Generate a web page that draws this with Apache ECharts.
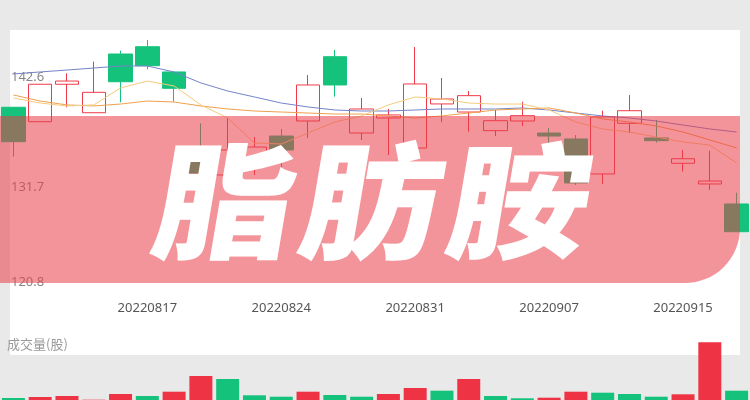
<!DOCTYPE html>
<html><head><meta charset="utf-8">
<script src="https://cdn.jsdelivr.net/npm/echarts@6/dist/echarts.min.js"></script>
<style>html,body{margin:0;padding:0;background:#e9e9e9}#c{width:750px;height:400px}</style>
</head><body><div id="c"></div>
<script>
const dates = ['20220810','20220811','20220812','20220815','20220816','20220817','20220818','20220819',
  '20220822','20220823','20220824','20220825','20220826','20220829','20220830','20220831',
  '20220901','20220902','20220905','20220906','20220907','20220908','20220909','20220913',
  '20220914','20220915','20220916','20220919'];
const opens  = [139.60,138.17,141.88,139.06,144.88,145.60,143.10,134.38,132.89,133.88,136.75,138.24,144.61,137.05,
  138.54,135.56,139.93,139.13,137.28,138.24,137.05,136.46,132.99,138.01,136.56,134.05,132.00,130.02];
const closes = [136.19,141.88,142.20,141.08,142.13,143.72,141.48,133.09,135.37,135.66,135.37,141.81,141.81,139.43,
  138.84,141.91,140.42,140.75,138.27,138.77,136.75,132.10,138.64,139.26,136.29,134.50,132.29,127.27];
const lows   = [134.70,138.17,139.60,139.06,140.09,143.36,140.15,132.59,131.90,132.89,133.68,136.56,140.65,136.36,
  134.87,135.56,138.14,137.18,136.75,137.74,136.06,131.90,132.00,137.05,136.09,133.22,131.40,127.24];
const highs  = [139.60,141.88,142.97,144.12,145.21,146.27,143.10,138.01,138.54,136.65,137.45,142.80,145.28,140.52,
  139.43,145.57,142.50,141.21,139.33,140.15,137.55,136.85,139.26,140.82,138.34,135.37,135.30,131.14];
const ma5  = [140.52,140.02,139.73,139.83,141.51,142.20,141.71,139.83,138.54,136.06,135.96,137.05,138.14,138.74,
  139.83,140.62,140.42,140.02,139.92,139.92,139.33,138.14,137.45,137.15,136.65,136.16,135.86,134.08];
const ma10 = [140.82,140.22,139.83,139.73,139.92,140.22,140.12,139.73,139.43,139.23,139.13,139.03,138.93,138.93,
  138.74,138.54,138.74,139.03,139.33,139.43,139.53,139.03,138.44,138.14,137.75,137.15,136.36,135.57];
const ma20 = [142.90,143.10,143.29,143.49,143.69,143.69,143.10,142.01,141.21,140.62,140.02,139.63,139.33,139.23,
  139.23,139.33,139.43,139.43,139.43,139.53,139.33,139.03,138.74,138.54,138.24,137.84,137.45,137.15];
const volumes = [2.0,3.0,4.0,0.3,6.0,4.0,8.3,24.0,21.0,4.7,3.3,8.3,5.0,3.3,
  6.0,12.0,9.3,21.0,4.0,1.7,2.3,8.3,7.3,6.0,3.3,5.7,57.7,9.3];
const volUp = [0,1,1,1,1,0,1,1,0,0,0,1,0,0,1,1,0,1,0,0,1,1,0,0,0,1,1,0];
const yTicks = [120.8, 131.7, 142.6];
const title = ['脂','肪','胺'];
const volLabel = '成交量(股)';

const RED = '#ee3a48', GREEN = '#14c27c';
const candle = dates.map((d,i)=>[opens[i],closes[i],lows[i],highs[i]]);
const chart = echarts.init(document.getElementById('c'));
const titleX = [226, 373, 521];
chart.setOption({
  backgroundColor: '#e9e9e9',
  animation: false,
  grid: [
    {left: -1.5, width: 755, top: 30, height: 267},
    {left: -1.5, width: 755, top: 340, height: 60}
  ],
  xAxis: [
    {type:'category', gridIndex:0, data: dates, boundaryGap:true,
     axisLine:{show:false}, axisTick:{show:false}, splitLine:{show:false},
     axisLabel:{interval:(i)=> i>0 && i%5===0, color:'#555', fontSize:13, margin:5, fontFamily:'Noto Sans'}},
    {type:'category', gridIndex:1, data: dates, boundaryGap:true, show:false}
  ],
  yAxis: [
    {type:'value', gridIndex:0, min:120.8, max:147.257, scale:true,
     axisLine:{show:false}, axisTick:{show:false}, splitLine:{show:false},
     axisLabel:{inside:true, margin:11, color:'#888', fontSize:13, fontFamily:'Noto Sans',
       customValues: yTicks,
       formatter:(v)=> Math.abs(v-120.8)<0.01 ? '{b|'+v.toFixed(1)+'}' : v.toFixed(1),
       rich:{b:{color:'#888', fontSize:13, fontFamily:'Noto Sans', padding:[0,0,30,0]}}}},
    {type:'value', gridIndex:1, min:0, max:60, show:false}
  ],
  series: [
    {type:'candlestick', xAxisIndex:0, yAxisIndex:0, data: candle, barWidth: 24,
     itemStyle:{color:'#ffffff', color0:GREEN, borderColor:RED, borderColor0:GREEN, borderWidth:1}},
    {type:'line', data: ma20, showSymbol:false, symbol:'none', lineStyle:{color:'#7484c8', width:1}, z:3},
    {type:'line', data: ma10, showSymbol:false, symbol:'none', lineStyle:{color:'#f0a04e', width:1}, z:3},
    {type:'line', data: ma5, showSymbol:false, symbol:'none', lineStyle:{color:'#f7cb7e', width:1}, z:3},
    {type:'bar', xAxisIndex:1, yAxisIndex:1, barWidth: 23,
     data: volumes.map((v,i)=>({value:v, itemStyle:{color: volUp[i] ? '#ee3344' : GREEN}}))}
  ],
  graphic: [
    {type:'rect', z:-5, silent:true, shape:{x:10, y:30, width:730, height:325}, style:{fill:'#ffffff'}},
    {type:'text', z:-4, x:7, y:344, style:{text: volLabel, fill:'#999', font:'13px "Noto Sans CJK SC"', textVerticalAlign:'middle', verticalAlign:'middle'}},
    {type:'rect', z:100, silent:true, shape:{x:0, y:116, width:740, height:167, r:[0,0,55,0]}, style:{fill:'rgba(234,60,72,0.55)'}},
    ...title.map((t,i)=>({type:'text', z:101, x: titleX[i], y: 201, scaleX: 1.12,
      style:{text:t, fill:'#fff', font:'900 126px "Noto Sans CJK SC"', textAlign:'center', align:'center', textVerticalAlign:'middle', verticalAlign:'middle'}}))
  ]
});
// slant the title glyphs slightly (the reference uses an oblique display face)
const zr = chart.getZr();
zr.storage.getDisplayList(true).forEach(el => {
  if (el.style && title.indexOf(el.style.text) >= 0) {
    const target = el.parent && el.parent.type === 'text' ? el.parent : el;
    el.skewX = -0.15;
    el.markRedraw && el.markRedraw();
  }
});
zr.refreshImmediately();
</script></body></html>
